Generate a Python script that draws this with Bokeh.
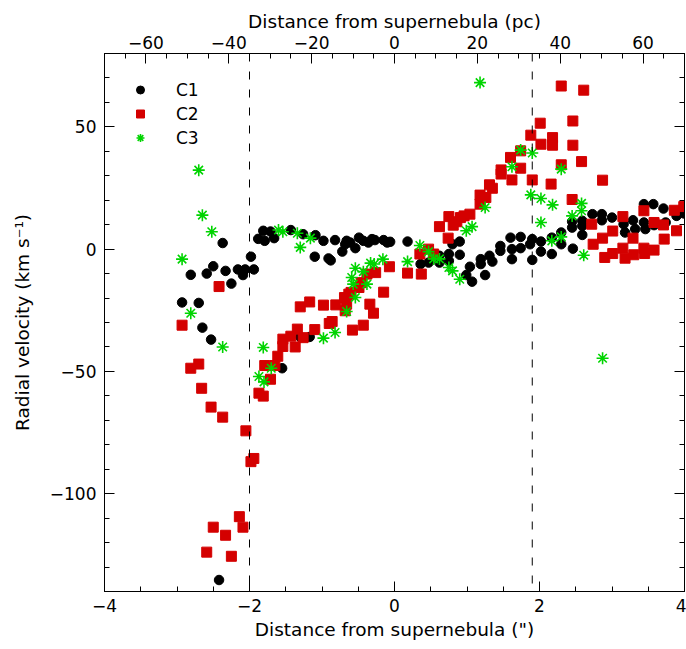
import numpy as np
from bokeh.plotting import figure
from bokeh.models import Range1d, LinearAxis, FixedTicker, Span, Legend, LegendItem
from bokeh.embed import file_html
from bokeh.resources import INLINE

# Angular-to-physical scale (pc per arcsec) for the top axis
PC_PER_ARCSEC = 17.5

# Component C1: offset (arcsec), radial velocity (km/s)
c1_x = [-2.93, -2.70, -2.65, -2.53, -2.81, -2.59, -2.50, -2.33, -2.25, -2.16, -2.09, -2.06, -1.94,
        -2.37, -1.98, -2.42,
        -1.88, -1.81, -1.79, -1.71, -1.66, -1.43, -1.26, -1.09, -0.98, -0.82, -1.10, -0.91, -0.88,
        -0.72, -0.66, -0.68, -0.61, -0.54, -0.49, -0.43, -0.36, -0.31, -0.27, -0.15, -0.10, -0.06,
        -1.55, -1.30, -1.17,
        0.18, 0.36, 0.47, 0.62, 0.62, 0.75, 0.75, 0.80, 0.90, 0.90, 0.99, 1.04, 1.07, 1.19, 1.19,
        1.25, 1.31, 1.35, 1.46, 1.46, 1.60, 1.62, 1.62, 1.74, 1.74, 1.87, 1.90, 1.90, 2.02, 2.02,
        2.17, 2.17, 2.30, 2.30, 2.46, 2.59, 2.59, 2.59, 2.45, 2.45, 2.73, 2.86, 2.86, 3.00, 3.16,
        3.18, 3.29, 3.32, 3.44, 3.57, 3.71, 3.44, 3.46, 3.58, 3.74, 3.89, 3.99]
c1_v = [-21.8, -22.0, -32.1, -37.0, -10.5, -10.0, -7.0, -8.9, -14.1, -8.3, -10.6, -8.3, -8.3,
        2.5, -3.1, -135.3,
        4.2, 7.5, 3.4, 7.2, 4.5, 7.8, 6.1, 5.7, 3.4, 3.7, -3.1, -3.8, -4.6,
        -1.0, 3.4, 2.0, 2.7, 0.4, 4.7, 3.4, 2.7, 4.1, 3.7, 3.7, 2.7, 3.0,
        -48.7, -35.9, -35.9,
        3.1, -6.1, -5.5, -2.7, -5.5, -2.0, -4.8, 2.0, 3.1, -2.3, -10.6, -7.2, -13.3, -4.1, -6.1,
        -10.6, -2.7, -5.1, 1.3, -0.7, 4.7, 0.0, -4.1, 5.0, 0.4, 2.0, 4.1, -4.4, 3.1, -1.0,
        4.7, -2.0, 2.0, 6.8, 0.2, 5.8, 9.5, 11.6, 11.3, 8.8, 14.3, 14.3, 11.8, 12.9, 10.2,
        6.8, 11.8, 8.2, 18.4, 18.4, 16.6, 10.9, 8.2, 9.8, 10.9, 13.6, 14.6]

# Component C2
c2_x = [-2.42, -2.93, -2.81, -2.70, -2.66, -2.53, -2.37, -2.05, -1.98, -1.94, -2.14, -2.50, -2.09,
        -2.33, -2.59, -2.25,
        -1.87, -1.81, -1.79, -1.71, -1.65, -1.61, -1.54, -1.54, -1.43, -1.37, -1.34, -1.26, -1.30,
        -1.17, -1.10, -0.98, -0.90, -0.86, -0.81, -0.69, -0.66, -0.63, -0.60, -0.68, -0.58, -0.49,
        -0.46, -0.43, -0.38, -0.34, -0.29, -0.26, -0.15, -0.07,
        0.18, 0.37, 0.35, 0.47, 0.54, 0.74, 0.62, 0.75, 0.81, 0.86, 0.91, 0.96, 1.04, 1.18, 1.26,
        1.18, 1.31, 1.35, 1.47, 1.47, 1.60, 1.62, 1.74, 1.74, 1.88, 1.90, 2.01, 2.02, 2.16, 2.18,
        2.18, 2.30, 2.30, 2.45, 2.46, 2.46, 2.58, 2.61, 2.72, 2.87, 2.87, 2.74, 2.90, 3.01, 3.01,
        3.15, 3.15, 3.18, 3.29, 3.30, 3.44, 3.44, 3.45, 3.58, 3.58, 3.71, 3.72, 3.86, 3.89, 3.99]
c2_v = [-15.3, -31.1, -48.7, -47.0, -56.9, -64.6, -68.7, -74.3, -86.9, -85.6, -109.4, -113.7, -113.7,
        -117.0, -123.9, -125.6,
        -58.9, -60.1, -47.6, -53.2, -47.6, -43.8, -36.8, -39.8, -35.6, -40.0, -32.7, -36.2, -23.6,
        -21.6, -32.9, -22.9, -30.4, -29.6, -22.8, -19.8, -22.5, -18.4, -17.7, -25.2, -33.1, -15.7,
        -13.7, -31.1, -10.2, -22.5, -26.2, -9.6, -17.6, -7.2,
        -9.8, -10.2, -2.0, 0.0, -2.0, 4.5, 9.2, 13.3, 9.8, 11.2, 12.9, 13.6, 14.3, 22.1, 21.1,
        18.4, 26.3, 24.9, 32.4, 30.7, 37.5, 28.3, 40.2, 33.1, 46.6, 28.3, 51.5, 42.9, 26.6, 45.6,
        42.5, 66.7, 34.5, 20.3, 52.4, 42.5, 35.8, 65.0, 10.2, 28.2, 4.5, 2.0, -3.4, 7.4, -1.8,
        13.3, 0.4, -3.7, 4.5, -2.3, 15.7, 0.4, -1.8, 10.9, -0.4, 9.9, 4.1, 15.9, 7.5, 17.4]

# Component C3
c3_x = [-2.70, -2.65, -2.52, -2.93, -2.81, -2.37, -1.60, -1.54, -1.34, -1.30, -1.16, -1.81, -1.87,
        -1.80, -1.70, -0.98, -0.82, -0.66, -0.54, -0.59, -0.57, -0.54, -0.43, -0.38, -0.33, -0.28,
        -0.16, 0.18, 0.35, 0.47, 0.54, 0.62, 0.75, 0.80, 0.90, 0.99, 1.07, 1.18, 1.25, 1.62, 1.74,
        1.90, 2.30, 1.88, 2.02, 2.18, 2.02, 2.45, 2.58, 2.58, 2.17, 2.30, 2.61, 2.87]
c3_v = [32.3, 13.9, 7.1, -4.1, -26.2, -40.0, 7.8, 7.1, 6.5, 0.7, 4.5, -40.2, -52.1,
        -54.3, -48.7, -36.4, -34.1, -25.5, -19.8, -11.6, -14.3, -7.8, -9.2, -14.3, -5.7, -6.1,
        -4.1, -5.1, 1.5, -1.0, -4.0, -4.0, -7.5, -8.9, -12.3, 7.5, 9.2, 68.1, 17.0, 33.7, 40.5,
        39.3, 32.7, 22.2, 20.7, 18.1, 10.9, 13.6, 18.7, 15.7, 3.4, 5.0, -2.5, -44.6]

# Axis ticks and their labels
x_ticks = [-4, -2, 0, 2, 4]
x_tick_labels = ["\u22124", "\u22122", "0", "2", "4"]
pc_ticks = [-60, -40, -20, 0, 20, 40, 60]
pc_tick_labels = ["\u221260", "\u221240", "\u221220", "0", "20", "40", "60"]
v_ticks = [-100, -50, 0, 50]
v_tick_labels = ["\u2212100", "\u221250", "0", "50"]

# Region boundaries marked by dashed lines (arcsec)
boundaries = [-2.0, 1.9]

FONT = "DejaVu Sans"
TICK_FS = "17px"
TITLE_FS = "18.5px"

p = figure(width=686, height=649,
           x_range=Range1d(-4, 4), y_range=Range1d(-140, 80),
           output_backend="svg", toolbar_location=None,
           min_border_left=104, min_border_right=2,
           min_border_top=53, min_border_bottom=58)
p.extra_x_ranges = {"pc": Range1d(-4 * PC_PER_ARCSEC, 4 * PC_PER_ARCSEC)}
p.grid.grid_line_color = None
p.outline_line_color = "black"
p.outline_line_width = 1
p.background_fill_color = "white"
p.border_fill_color = "white"


def style_axis(ax, ticks, minor, labels, show_labels=True):
    ax.ticker = FixedTicker(ticks=ticks, minor_ticks=list(minor))
    ax.major_label_overrides = {t: (lab if show_labels else "") for t, lab in zip(ticks, labels)}
    ax.major_tick_in = 10
    ax.major_tick_out = 0
    ax.minor_tick_in = 5
    ax.minor_tick_out = 0
    ax.axis_line_color = "black"
    ax.major_tick_line_color = "black"
    ax.minor_tick_line_color = "black"
    ax.major_label_text_font = FONT
    ax.major_label_text_font_size = TICK_FS
    ax.major_label_text_color = "black"
    ax.axis_label_text_font = FONT
    ax.axis_label_text_font_size = TITLE_FS
    ax.axis_label_text_font_style = "normal"
    ax.axis_label_text_color = "black"


x_minor = np.arange(-4, 4.01, 0.5)
pc_minor = np.arange(-70, 70.1, 5)
v_minor = np.arange(-140, 80.1, 10)

xb = p.xaxis[0]
style_axis(xb, x_ticks, x_minor, x_tick_labels)
xb.axis_label = 'Distance from supernebula (")'
xb.major_label_standoff = 7
xb.axis_label_standoff = 4

yl = p.yaxis[0]
style_axis(yl, v_ticks, v_minor, v_tick_labels)
yl.axis_label = "Radial velocity (km s\u207b\u00b9)"
yl.major_label_standoff = 8
yl.axis_label_standoff = 14

xt = LinearAxis(x_range_name="pc")
style_axis(xt, pc_ticks, pc_minor, pc_tick_labels)
xt.axis_label = "Distance from supernebula (pc)"
xt.major_label_standoff = 5
xt.axis_label_standoff = 1
p.add_layout(xt, "above")

yr = LinearAxis()
style_axis(yr, v_ticks, v_minor, v_tick_labels, show_labels=False)
yr.major_label_standoff = 0
yr.major_label_text_font_size = "1px"
p.add_layout(yr, "right")

for b in boundaries:
    p.add_layout(Span(location=b, dimension="height", line_color="black",
                      line_width=1, line_dash="8 10"))

r1 = p.scatter(c1_x, c1_v, marker="circle", size=9.5, fill_color="black", line_color="black")
r2 = p.scatter(c2_x, c2_v, marker="square", size=10, fill_color="#d40000", line_color="#d40000")
r3 = p.scatter(c3_x, c3_v, marker="asterisk", size=12, line_color="#00d400", line_width=1.6)

legend = Legend(items=[LegendItem(label="C1", renderers=[r1]),
                       LegendItem(label="C2", renderers=[r2]),
                       LegendItem(label="C3", renderers=[r3])],
                location="top_left", margin=26, padding=0, spacing=3,
                glyph_width=20, glyph_height=21, label_height=21, label_standoff=26,
                label_text_font=FONT, label_text_font_size=TICK_FS,
                label_text_color="black",
                border_line_color=None, background_fill_alpha=0)
p.add_layout(legend)

open("out.html", "w").write(file_html(p, INLINE))
